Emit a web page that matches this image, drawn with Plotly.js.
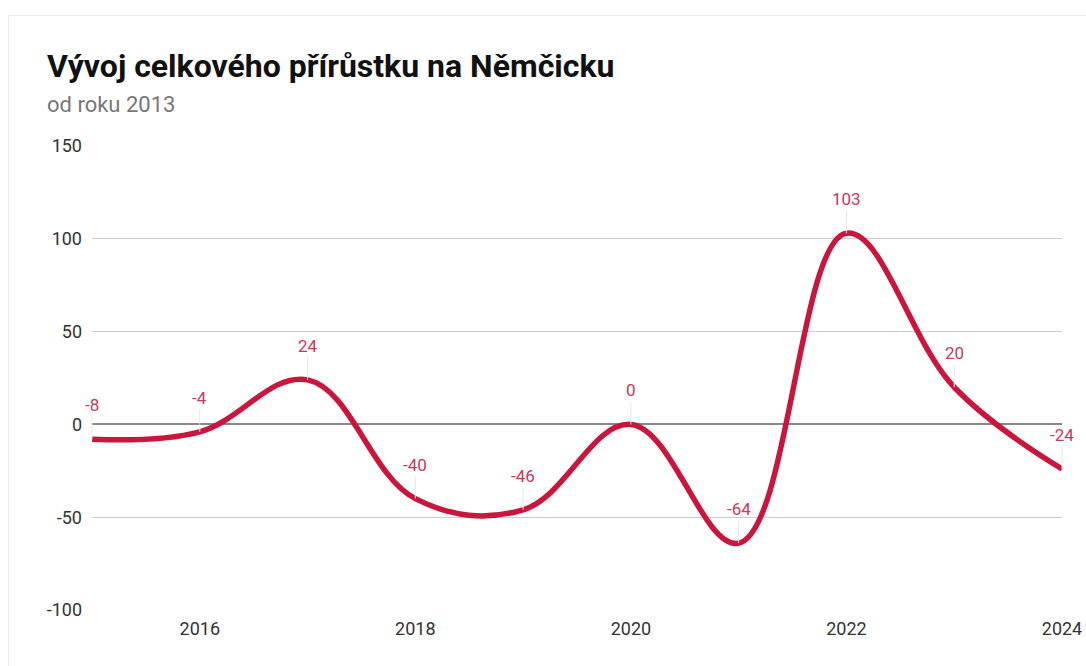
<!DOCTYPE html>
<html>
<head>
<meta charset="utf-8">
<script src="https://cdn.plot.ly/plotly-3.0.1.min.js"></script>
<style>
  html, body { margin: 0; padding: 0; background: #ffffff; }
  #card { position: absolute; left: 8px; top: 15px; width: 1100px; height: 700px; border: 1px solid #ececec; box-sizing: border-box; }
  #chart { position: absolute; left: 0; top: 0; width: 1086px; height: 666px; }
</style>
</head>
<body>
<div id="card"></div>
<div id="chart"></div>
<script>
const years = [2015, 2016, 2017, 2018, 2019, 2020, 2021, 2022, 2023, 2024];
const growth = [-8, -4, 24, -40, -46, 0, -64, 103, 20, -24];
const yTicks = [-100, -50, 0, 50, 100, 150];
const xTicks = [2016, 2018, 2020, 2022, 2024];
const titleText = "Vývoj celkového přírůstku na Němčicku";
const subtitleText = "od roku 2013";

const lineColor = "#c8163e";
const labelColor = "#c43a5c";

const annotations = years.map((y, i) => ({
  x: y, y: growth[i], xref: 'x', yref: 'y',
  text: String(growth[i]),
  showarrow: true, arrowhead: 0, arrowwidth: 1, arrowcolor: '#e6e6e6',
  ax: 0, ay: -34, standoff: 0,
  font: { family: 'Roboto, sans-serif', size: 17, color: labelColor }
}));

annotations.push({
  xref: 'paper', yref: 'paper', x: -0.0485, y: 1.1724, xanchor: 'left', yanchor: 'middle',
  text: '<b>' + titleText + '</b>', showarrow: false,
  font: { family: 'Roboto, sans-serif', size: 32, color: '#111111' }
});
annotations.push({
  xref: 'paper', yref: 'paper', x: -0.0485, y: 1.0905, xanchor: 'left', yanchor: 'middle',
  text: subtitleText, showarrow: false,
  font: { family: 'Roboto, sans-serif', size: 22, color: '#777777' }
});

const trace = {
  x: years, y: growth, type: 'scatter', mode: 'lines',
  line: { color: lineColor, width: 5.5, shape: 'spline', smoothing: 1.1 },
  hoverinfo: 'none', cliponaxis: false
};

const layout = {
  width: 1086, height: 666,
  margin: { l: 92, r: 24, t: 146, b: 56 },
  paper_bgcolor: 'rgba(0,0,0,0)', plot_bgcolor: 'rgba(0,0,0,0)',
  showlegend: false,
  font: { family: 'Roboto, sans-serif', size: 18, color: '#333333' },
  xaxis: {
    range: [2015, 2024], tickvals: xTicks, ticktext: xTicks.map(String),
    showgrid: false, zeroline: false, showline: false, ticks: '',
    ticklabelstandoff: 6, fixedrange: true,
    tickfont: { family: 'Roboto, sans-serif', size: 18, color: '#333333' }
  },
  yaxis: {
    range: [-100, 150], tickvals: yTicks, ticktext: yTicks.map(String),
    showgrid: true, gridcolor: '#cccccc', gridwidth: 1,
    zeroline: true, zerolinecolor: '#888888', zerolinewidth: 2,
    showline: false, ticks: '', ticklabelstandoff: 9, fixedrange: true,
    tickfont: { family: 'Roboto, sans-serif', size: 18, color: '#333333' }
  },
  annotations: annotations
};

Plotly.newPlot('chart', [trace], layout, { displayModeBar: false, staticPlot: true });
</script>
</body>
</html>
